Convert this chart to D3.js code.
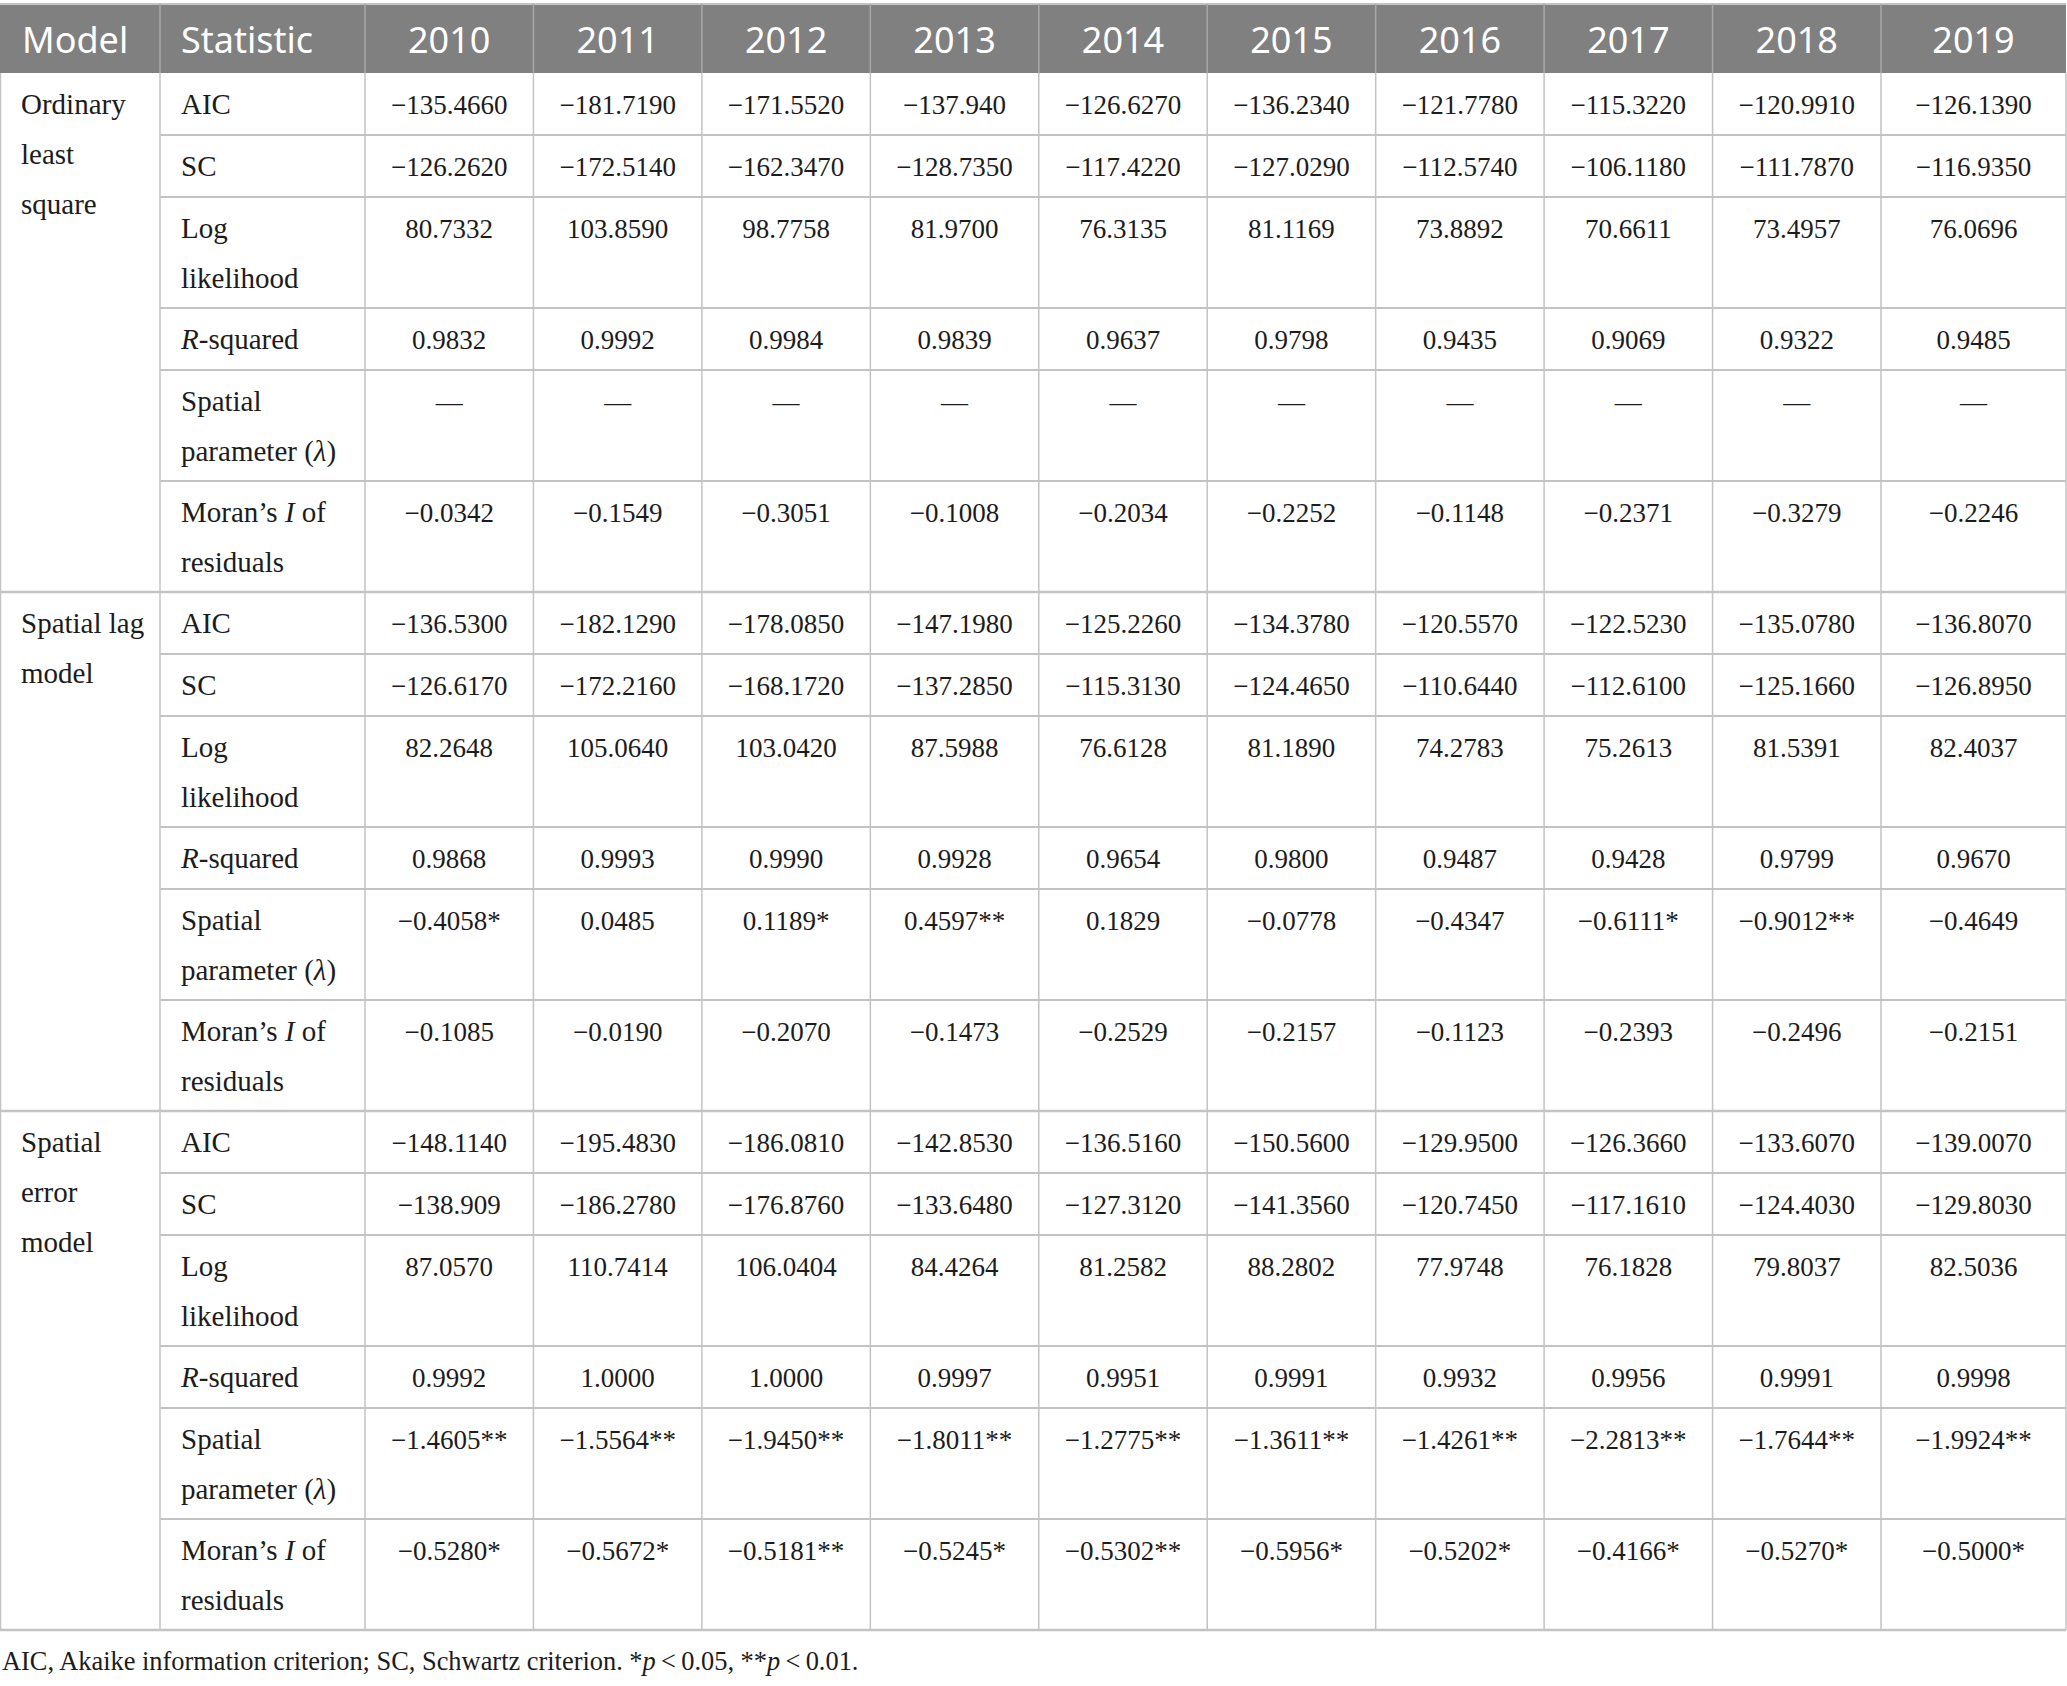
<!DOCTYPE html>
<html>
<head>
<meta charset="utf-8">
<script src="https://cdn.jsdelivr.net/npm/d3@7"></script>
<style>
  html, body { margin: 0; padding: 0; background: #fff; }
  svg { display: block; }
</style>
</head>
<body>
<script>
// ---- data ----
const years = ['2010', '2011', '2012', '2013', '2014', '2015', '2016', '2017', '2018', '2019'];

const headers = ['Model', 'Statistic'];

// model names, one entry per printed line
const modelLines = [
  ['Ordinary', 'least', 'square'],
  ['Spatial lag', 'model'],
  ['Spatial', 'error', 'model']
];

// statistic labels, _x_ marks italic text
const statLines = [
  ['AIC'],
  ['SC'],
  ['Log', 'likelihood'],
  ['_R_-squared'],
  ['Spatial', 'parameter (_λ_)'],
  ['Moran’s _I_ of', 'residuals']
];

const olsValues = [
  ['−135.4660', '−181.7190', '−171.5520', '−137.940', '−126.6270', '−136.2340', '−121.7780', '−115.3220', '−120.9910', '−126.1390'],
  ['−126.2620', '−172.5140', '−162.3470', '−128.7350', '−117.4220', '−127.0290', '−112.5740', '−106.1180', '−111.7870', '−116.9350'],
  ['80.7332', '103.8590', '98.7758', '81.9700', '76.3135', '81.1169', '73.8892', '70.6611', '73.4957', '76.0696'],
  ['0.9832', '0.9992', '0.9984', '0.9839', '0.9637', '0.9798', '0.9435', '0.9069', '0.9322', '0.9485'],
  ['—', '—', '—', '—', '—', '—', '—', '—', '—', '—'],
  ['−0.0342', '−0.1549', '−0.3051', '−0.1008', '−0.2034', '−0.2252', '−0.1148', '−0.2371', '−0.3279', '−0.2246']
];

const slmValues = [
  ['−136.5300', '−182.1290', '−178.0850', '−147.1980', '−125.2260', '−134.3780', '−120.5570', '−122.5230', '−135.0780', '−136.8070'],
  ['−126.6170', '−172.2160', '−168.1720', '−137.2850', '−115.3130', '−124.4650', '−110.6440', '−112.6100', '−125.1660', '−126.8950'],
  ['82.2648', '105.0640', '103.0420', '87.5988', '76.6128', '81.1890', '74.2783', '75.2613', '81.5391', '82.4037'],
  ['0.9868', '0.9993', '0.9990', '0.9928', '0.9654', '0.9800', '0.9487', '0.9428', '0.9799', '0.9670'],
  ['−0.4058*', '0.0485', '0.1189*', '0.4597**', '0.1829', '−0.0778', '−0.4347', '−0.6111*', '−0.9012**', '−0.4649'],
  ['−0.1085', '−0.0190', '−0.2070', '−0.1473', '−0.2529', '−0.2157', '−0.1123', '−0.2393', '−0.2496', '−0.2151']
];

const semValues = [
  ['−148.1140', '−195.4830', '−186.0810', '−142.8530', '−136.5160', '−150.5600', '−129.9500', '−126.3660', '−133.6070', '−139.0070'],
  ['−138.909', '−186.2780', '−176.8760', '−133.6480', '−127.3120', '−141.3560', '−120.7450', '−117.1610', '−124.4030', '−129.8030'],
  ['87.0570', '110.7414', '106.0404', '84.4264', '81.2582', '88.2802', '77.9748', '76.1828', '79.8037', '82.5036'],
  ['0.9992', '1.0000', '1.0000', '0.9997', '0.9951', '0.9991', '0.9932', '0.9956', '0.9991', '0.9998'],
  ['−1.4605**', '−1.5564**', '−1.9450**', '−1.8011**', '−1.2775**', '−1.3611**', '−1.4261**', '−2.2813**', '−1.7644**', '−1.9924**'],
  ['−0.5280*', '−0.5672*', '−0.5181**', '−0.5245*', '−0.5302**', '−0.5956*', '−0.5202*', '−0.4166*', '−0.5270*', '−0.5000*']
];

const footnote = 'AIC, Akaike information criterion; SC, Schwartz criterion. *_p_\u2009<\u20090.05, **_p_\u2009<\u20090.01.';

// ---- layout ----
const width = 2067, height = 1686;
const tableRight = 2066;
const headTop = 4, headBottom = 73;
const modelW = 160, statW = 205;
const lastW = 185;
const lineStep = 50, firstBase = 41;
const singleH = 62, doubleH = 111;
const headerFill = '#808080', gridColor = '#c3c3c3', textColor = '#1c1c1c';
const serif = '"Liberation Serif", "Times New Roman", serif';
const sans = '"Noto Sans", "Open Sans", sans-serif';
const valueSize = 27, labelSize = 29, noteSize = 26.4;

const blocks = [olsValues, slmValues, semValues];

// column positions: years share the space up to the last, wider column
const x = d3.scaleBand()
  .domain(years.slice(0, -1))
  .range([modelW + statW, tableRight - lastW])
  .padding(0);
const colLeft = y => y === years[years.length - 1] ? tableRight - lastW : x(y);
const colWidth = y => y === years[years.length - 1] ? lastW : x.bandwidth();

const rowH = statLines.map(l => l.length > 1 ? doubleH : singleH);
const blockH = d3.sum(rowH);
const rowTop = statLines.map((_, i) => d3.sum(rowH.slice(0, i)));

const svg = d3.select('body').append('svg')
  .attr('width', width)
  .attr('height', height);

// writes a line with _italic_ segments into a text element
function richText(sel, str) {
  str.split('_').forEach((part, i) => {
    if (!part) return;
    sel.append('tspan')
      .attr('font-style', i % 2 ? 'italic' : 'normal')
      .text(part);
  });
}

// header
svg.append('rect')
  .attr('x', 0).attr('y', headTop)
  .attr('width', tableRight).attr('height', headBottom - headTop)
  .attr('fill', headerFill);
svg.append('line')
  .attr('x1', 0).attr('x2', tableRight)
  .attr('y1', headTop).attr('y2', headTop)
  .attr('stroke', gridColor).attr('stroke-width', 2);

const headSeps = [modelW, modelW + statW].concat(years.slice(1).map(colLeft));
svg.selectAll('line.headsep')
  .data(headSeps)
  .join('line')
  .attr('class', 'headsep')
  .attr('x1', d => d).attr('x2', d => d)
  .attr('y1', headTop).attr('y2', headBottom)
  .attr('stroke', '#a8a8a8').attr('stroke-width', 1.5);

svg.selectAll('text.head')
  .data(headers)
  .join('text')
  .attr('class', 'head')
  .attr('x', (d, i) => i === 0 ? 22 : modelW + 21)
  .attr('y', 53)
  .attr('font-family', sans)
  .attr('font-size', 36)
  .attr('fill', '#fff')
  .text(d => d);

svg.selectAll('text.year')
  .data(years)
  .join('text')
  .attr('class', 'year')
  .attr('x', d => colLeft(d) + colWidth(d) / 2)
  .attr('y', 53)
  .attr('text-anchor', 'middle')
  .attr('font-family', sans)
  .attr('font-size', 36)
  .attr('fill', '#fff')
  .text(d => d);

// body blocks
const body = svg.append('g').attr('transform', `translate(0,${headBottom})`);

blocks.forEach((vals, b) => {
  const g = body.append('g').attr('transform', `translate(0,${b * blockH})`);

  // model name
  g.append('g').selectAll('text')
    .data(modelLines[b])
    .join('text')
    .attr('x', 21)
    .attr('y', (d, i) => firstBase + i * lineStep)
    .attr('font-family', serif)
    .attr('font-size', labelSize)
    .attr('fill', textColor)
    .text(d => d);

  // rows
  const row = g.selectAll('g.row')
    .data(statLines.map((lines, i) => ({ lines, vals: vals[i], top: rowTop[i], h: rowH[i] })))
    .join('g')
    .attr('class', 'row')
    .attr('transform', d => `translate(0,${d.top})`);

  row.each(function (d) {
    const r = d3.select(this);
    d.lines.forEach((ln, i) => {
      r.append('text')
        .attr('x', modelW + 21)
        .attr('y', firstBase + i * lineStep)
        .attr('font-family', serif)
        .attr('font-size', labelSize)
        .attr('fill', textColor)
        .call(richText, ln);
    });
  });

  row.selectAll('text.val')
    .data(d => d.vals.map((v, i) => ({ v, year: years[i] })))
    .join('text')
    .attr('class', 'val')
    .attr('x', d => colLeft(d.year) + colWidth(d.year) / 2)
    .attr('y', firstBase)
    .attr('text-anchor', 'middle')
    .attr('font-family', serif)
    .attr('font-size', valueSize)
    .attr('fill', textColor)
    .text(d => d.v);

  // horizontal rules between statistic rows
  g.selectAll('line.hr')
    .data(rowTop.slice(1))
    .join('line')
    .attr('class', 'hr')
    .attr('x1', modelW).attr('x2', tableRight)
    .attr('y1', d => d).attr('y2', d => d)
    .attr('stroke', gridColor).attr('stroke-width', 2);

  // block bottom rule (full width)
  g.append('line')
    .attr('x1', 0).attr('x2', tableRight)
    .attr('y1', blockH).attr('y2', blockH)
    .attr('stroke', gridColor).attr('stroke-width', 2.5);
});

// vertical rules in the body
const bodyBottom = headBottom + blocks.length * blockH;
const vSeps = [0.5, modelW, modelW + statW].concat(years.slice(1).map(colLeft), [tableRight]);
svg.selectAll('line.vr')
  .data(vSeps)
  .join('line')
  .attr('class', 'vr')
  .attr('x1', d => d).attr('x2', d => d)
  .attr('y1', headBottom).attr('y2', bodyBottom)
  .attr('stroke', gridColor).attr('stroke-width', 1.5);

// footnote
svg.append('text')
  .attr('x', 2)
  .attr('y', 1670)
  .attr('font-family', serif)
  .attr('font-size', noteSize)
  .attr('fill', textColor)
  .call(richText, footnote);
</script>
</body>
</html>
